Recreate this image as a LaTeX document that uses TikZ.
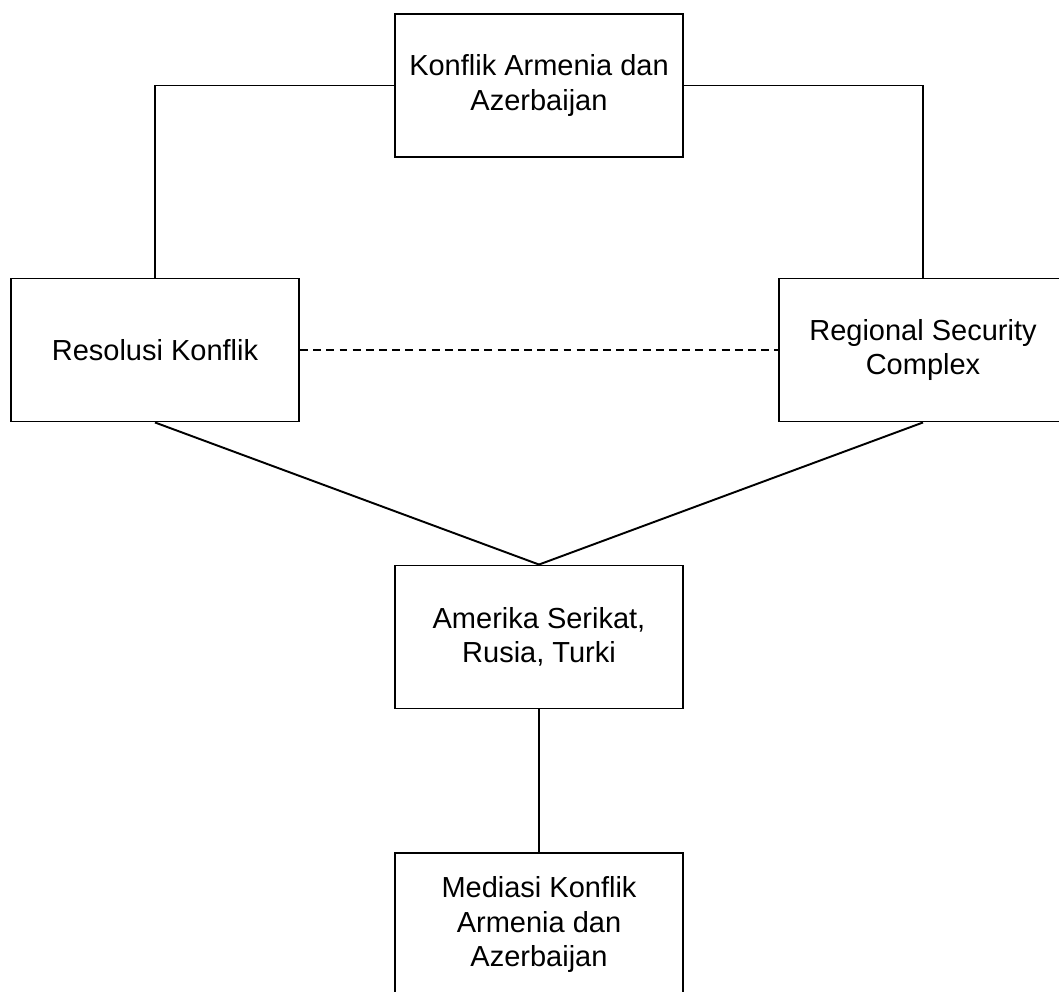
\documentclass[tikz,border=0pt]{standalone}
\usepackage{fontspec}
\setmainfont{Liberation Sans}
\begin{document}
\begin{tikzpicture}[box/.style={draw, line width=1.1pt, minimum width=5.76cm, minimum height=2.86cm, align=center, font=\fontsize{16.5}{19.5}\selectfont},
		link/.style={line width=1.1pt}]
		\useasboundingbox (0, 0) rectangle (21.18, -19.82);
		\node[box] (konflik) at (10.78, -1.71) {Konflik Armenia dan\\Azerbaijan};
		\node[box] (resolusi) at (3.1, -7.0) {Resolusi Konflik};
		\node[box] (rsc) at (18.46, -7.0) {Regional Security\\Complex};
		\node[box] (aktor) at (10.78, -12.74) {Amerika Serikat,\\Rusia, Turki};
		\node[box] (mediasi) at (10.78, -18.49) {Mediasi Konflik\\Armenia dan\\Azerbaijan};
		\draw[link] (konflik.west) -| (resolusi.north);
		\draw[link] (konflik.east) -| (rsc.north);
		\draw[link, dash pattern=on 4.5pt off 3pt] (resolusi.east) -- (rsc.west);
		\draw[link] (resolusi.south) -- (aktor.north);
		\draw[link] (rsc.south) -- (aktor.north);
		\draw[link] (aktor.south) -- (mediasi.north);
	\end{tikzpicture}
\end{document}
